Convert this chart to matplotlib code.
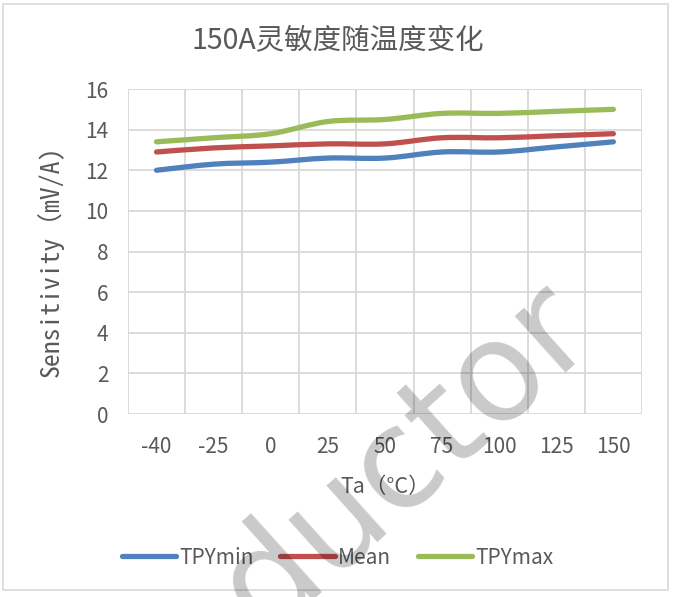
import matplotlib
matplotlib.use('Agg')
import matplotlib.pyplot as plt
from matplotlib.path import Path
from matplotlib.patches import PathPatch, Rectangle
from matplotlib.lines import Line2D
import numpy as np

plt.rcParams['font.family'] = ['Noto Sans CJK SC', 'DejaVu Sans']

# data
temps = ['-40', '-25', '0', '25', '50', '75', '100', '125', '150']
tpy_min = [12.0, 12.3, 12.4, 12.6, 12.6, 12.9, 12.9, 13.15, 13.4]
mean = [12.9, 13.1, 13.2, 13.3, 13.3, 13.6, 13.6, 13.7, 13.8]
tpy_max = [13.4, 13.6, 13.8, 14.4, 14.5, 14.8, 14.8, 14.9, 15.0]

colors = ['#4F81BD', '#C0504D', '#9BBB59']
names = ['TPYmin', 'Mean', 'TPYmax']
grey = '#595959'
mono = ['Noto Sans Mono CJK SC', 'DejaVu Sans Mono', 'Noto Sans CJK SC']


def smooth_path(xs, ys):
	""" Excel-achtige gladde lijn als Bezier path """
	pts = np.column_stack([xs, ys]).astype(float)
	n = len(pts)
	verts = [pts[0]]
	codes = [Path.MOVETO]
	for i in range(n - 1):
		p0 = pts[max(i - 1, 0)]
		p1 = pts[i]
		p2 = pts[i + 1]
		p3 = pts[min(i + 2, n - 1)]
		c1 = p1 + (p2 - p0) / 6.0
		c2 = p2 - (p3 - p1) / 6.0
		verts += [c1, c2, p2]
		codes += [Path.CURVE4] * 3
	return Path(verts, codes)


fig = plt.figure(figsize=(6.75, 5.97), dpi=100)
ax = fig.add_axes([0.1896, 0.3065, 0.7614, 0.5444])

x = np.arange(len(temps))
for ys, c in zip([tpy_min, mean, tpy_max], colors):
	patch = PathPatch(smooth_path(x, ys), facecolor='none', edgecolor=c,
	                  lw=3.8, capstyle='round', joinstyle='round', zorder=3)
	ax.add_patch(patch)

ax.set_xlim(-0.5, len(temps) - 0.5)
ax.set_ylim(0, 16)
ax.set_yticks(range(0, 17, 2))
ax.set_xticks(x)
ax.set_xticklabels(temps)
ax.set_xticks(np.arange(-0.5, len(temps), 1), minor=True)
ax.grid(True, which='major', axis='y', color='#D9D9D9', lw=1.3)
ax.grid(True, which='minor', axis='x', color='#D9D9D9', lw=1.3)
ax.set_axisbelow(True)
for s in ax.spines.values():
	s.set_visible(False)
ax.tick_params(which='both', length=0)
ax.tick_params(axis='x', pad=16, labelsize=15, labelcolor=grey)
ax.tick_params(axis='y', pad=14, labelsize=15, labelcolor=grey)

ax.set_xlabel('Ta（°C）', fontsize=15.5, color=grey, labelpad=13)
ax.set_ylabel('Sensitivity（mV/A)', fontsize=18.5, color=grey, family=mono)
ax.yaxis.set_label_coords(-0.125, 0.469)

fig.text(0.5, 0.933, '150A灵敏度随温度变化', ha='center', va='center',
         fontsize=20.5, color=grey)

handles = [Line2D([], [], color=c, lw=3.8, solid_capstyle='round') for c in colors]
fig.legend(handles, names, loc='center', bbox_to_anchor=(0.5, 0.066), ncol=3,
           frameon=False, fontsize=15, handlelength=2.6, handletextpad=0.15,
           columnspacing=1.3, labelcolor=grey)

# watermerk
fig.text(0.6, 0.232, 'ductor', rotation=42, ha='center', va='center',
         fontsize=100, color='black', alpha=0.21,
         family='DejaVu Sans', zorder=10)

fig.add_artist(Rectangle((0.005, 0.012), 0.985, 0.982, transform=fig.transFigure,
                         fill=False, edgecolor='#D9D9D9', lw=1.2))

fig.savefig('out.png', dpi=100)
